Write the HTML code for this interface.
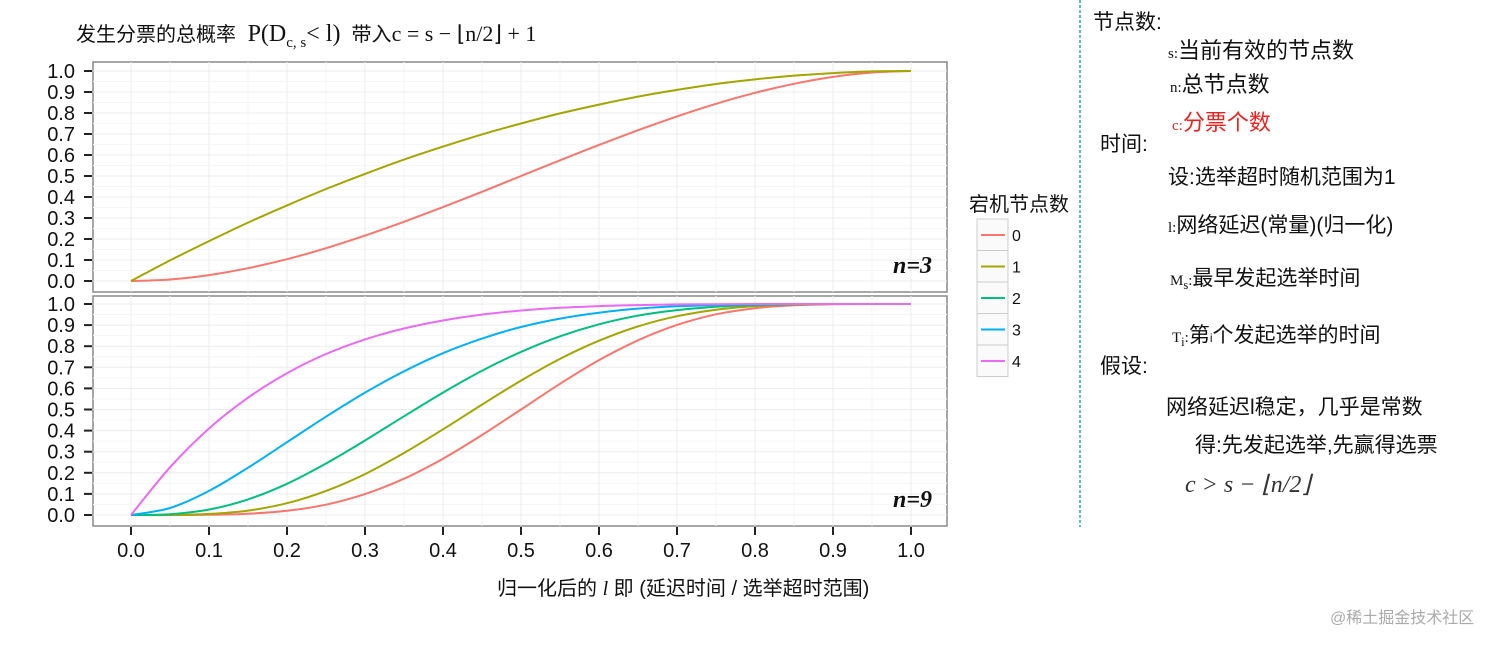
<!DOCTYPE html>
<html><head><meta charset="utf-8">
<style>
body{margin:0;width:1512px;height:647px;background:#fff;overflow:hidden;font-family:"Liberation Sans","Noto Sans CJK SC",sans-serif;}
svg{position:absolute;left:0;top:0}
.t{position:absolute;white-space:nowrap;color:#111;font-family:"Liberation Sans","Noto Sans CJK SC",sans-serif}
</style></head><body>
<svg id="chart" width="1512" height="647"></svg>
<div class="t" style="left:76px;top:18px;font-size:20px">发生分票的总概率 <span style="font-family:'Liberation Serif',serif;font-size:24px">&nbsp;P(D<sub style="font-size:15px">c, s</sub>&lt; l)</span>&nbsp; 带入<span style="font-family:'Liberation Serif',serif;font-size:22px">c = s − ⌊n/2⌋ + 1</span></div>
<div class="t" style="left:497px;top:572px;font-size:20px">归一化后的 <i style="font-family:'Liberation Serif',serif">l</i> 即 (延迟时间 / 选举超时范围)</div>
<div class="t" style="left:969px;top:188px;font-size:20px">宕机节点数</div>
<div class="t" style="left:1093px;top:6px;font-size:21px">节点数:</div>
<div class="t" style="left:1168px;top:33px;font-size:22px"><span style="font-family:'Liberation Serif',serif;font-size:15px">s:</span>当前有效的节点数</div>
<div class="t" style="left:1170px;top:67px;font-size:22px"><span style="font-family:'Liberation Serif',serif;font-size:15px">n:</span>总节点数</div>
<div class="t" style="left:1172px;top:105px;font-size:22px;color:#e8231f"><span style="font-family:'Liberation Serif',serif;font-size:15px">c:</span>分票个数</div>
<div class="t" style="left:1100px;top:128px;font-size:21px">时间:</div>
<div class="t" style="left:1168px;top:161px;font-size:21px">设:选举超时随机范围为1</div>
<div class="t" style="left:1168px;top:209px;font-size:21px"><span style="font-family:'Liberation Serif',serif;font-size:15px">l:</span>网络延迟(常量)(归一化)</div>
<div class="t" style="left:1170px;top:262px;font-size:21px"><span style="font-family:'Liberation Serif',serif;font-size:15px">M<sub>s</sub>:</span>最早发起选举时间</div>
<div class="t" style="left:1172px;top:319px;font-size:21px"><span style="font-family:'Liberation Serif',serif;font-size:15px">T<sub>i</sub>:</span>第<span style="font-size:12px">i</span>个发起选举的时间</div>
<div class="t" style="left:1100px;top:350px;font-size:21px">假设:</div>
<div class="t" style="left:1166px;top:391px;font-size:21px">网络延迟l稳定，几乎是常数</div>
<div class="t" style="left:1195px;top:429px;font-size:21px">得:先发起选举,先赢得选票</div>
<div class="t" style="left:1185px;top:470px;font-size:24px;font-family:'Liberation Serif',serif;font-style:italic;color:#333">c &gt; s − ⌊n/2⌋</div>
<div class="t" style="left:1330px;top:604px;font-size:16px;color:#aaa">@稀土掘金技术社区</div>
<script>
const xs=[0,.05,.1,.15,.2,.25,.3,.35,.4,.45,.5,.55,.6,.65,.7,.75,.8,.85,.9,.95,1];
const top0=[0,.007,.028,.061,.104,.156,.216,.282,.352,.425,.5,.575,.648,.718,.784,.844,.896,.939,.972,.993,1];
const top1=[0,.098,.19,.278,.36,.438,.51,.578,.64,.698,.75,.798,.84,.878,.91,.938,.96,.978,.99,.998,1];
const bot0=[0,0,.001,.006,.02,.049,.099,.172,.267,.379,.5,.622,.734,.828,.901,.951,.98,.994,.999,1,1];
const bot1=[0,0,.005,.021,.056,.114,.194,.294,.406,.523,.637,.74,.826,.894,.942,.973,.99,.997,1,1,1];
const bot2=[0,.004,.026,.074,.148,.244,.353,.468,.58,.684,.773,.847,.904,.945,.971,.987,.995,.999,1,1,1];
const bot3=[0,.033,.114,.224,.345,.466,.58,.681,.767,.836,.891,.931,.959,.978,.989,.995,.998,1,1,1,1];
const bot4=[0,.226,.41,.556,.672,.763,.832,.884,.922,.95,.969,.982,.99,.995,.998,.999,1,1,1,1,1];
const xTicks=["0.0","0.1","0.2","0.3","0.4","0.5","0.6","0.7","0.8","0.9","1.0"];
const yTicks=["0.0","0.1","0.2","0.3","0.4","0.5","0.6","0.7","0.8","0.9","1.0"];
const legendLabels=["0","1","2","3","4"];
const colors=["#F8766D","#A3A500","#00BF7D","#00B0F6","#E76BF3"];
const NS="http://www.w3.org/2000/svg";
const svg=document.getElementById('chart');
function mk(t,a,p){const e=document.createElementNS(NS,t);for(const k in a)e.setAttribute(k,a[k]);(p||svg).appendChild(e);return e;}
const X=v=>131+v*780;
function smooth(pts){let d='M'+pts[0][0].toFixed(1)+','+pts[0][1].toFixed(1);
 for(let i=0;i<pts.length-1;i++){const p0=pts[i-1]||pts[i],p1=pts[i],p2=pts[i+1],p3=pts[i+2]||p2;
  const c1=[p1[0]+(p2[0]-p0[0])/6,p1[1]+(p2[1]-p0[1])/6],c2=[p2[0]-(p3[0]-p1[0])/6,p2[1]-(p3[1]-p1[1])/6];
  d+='C'+c1.map(v=>v.toFixed(1)).join(',')+' '+c2.map(v=>v.toFixed(1)).join(',')+' '+p2[0].toFixed(1)+','+p2[1].toFixed(1);}
 return d;}
const panels=[{top:62,bot:292,y0:281,y1:71,series:[top0,top1],label:"n=3",name:"top"},
 {top:296,bot:526,y0:515,y1:304,series:[bot0,bot1,bot2,bot3,bot4],label:"n=9",name:"bottom"}];
const dv=mk('line',{x1:1080,y1:0,x2:1080,y2:527,stroke:'#2aa7a7','stroke-width':1.5,'stroke-dasharray':'3,2'});


panels.forEach(p=>{
 const Y=v=>p.y0+(p.y1-p.y0)*v;
 const g=mk('g',{});
 
 
 mk('rect',{x:93,y:p.top,width:854,height:p.bot-p.top,fill:'#fff',stroke:'#888','stroke-width':1.5},g);
 for(let i=0;i<=20;i++){const v=i/20;
  mk('line',{x1:X(v),x2:X(v),y1:p.top,y2:p.bot,stroke:i%2?'#f6f6f6':'#ececec','stroke-width':1},g);
  mk('line',{x1:93,x2:947,y1:Y(v),y2:Y(v),stroke:i%2?'#f6f6f6':'#ececec','stroke-width':1},g);}
 yTicks.forEach((t,i)=>{const v=parseFloat(t);
  mk('line',{x1:84,x2:92,y1:Y(v),y2:Y(v),stroke:'#222','stroke-width':2},g);
  const tx=mk('text',{x:75,y:Y(v)+7,'text-anchor':'end','font-size':20,fill:'#111','font-family':'Liberation Sans, sans-serif'},g);
  tx.textContent=t;
  
  });
 p.series.forEach((s,si)=>{
  const pts=s.map((v,i)=>[X(xs[i]),Y(v)]);
  const path=mk('path',{d:smooth(pts),fill:'none',stroke:colors[si],'stroke-width':2,'stroke-linejoin':'round'},g);
  
  });
 const lb=mk('text',{x:932,y:p.bot-19,'text-anchor':'end','font-size':24,'font-style':'italic','font-weight':'bold',fill:'#111','font-family':'Liberation Serif, serif'},g);
 lb.textContent=p.label;
 
 
});
xTicks.forEach(t=>{const v=parseFloat(t);
 mk('line',{x1:X(v),x2:X(v),y1:527,y2:535,stroke:'#222','stroke-width':2});
 const tx=mk('text',{x:X(v),y:557,'text-anchor':'middle','font-size':20,fill:'#111','font-family':'Liberation Sans, sans-serif'});
 tx.textContent=t;
 
 });
legendLabels.forEach((l,i)=>{const y=219+i*31.5;
 const g=mk('g',{});
 
 
 mk('rect',{x:977,y:y,width:31,height:31.5,fill:'#fafafa',stroke:'#ccc'},g);
 mk('line',{x1:981,x2:1005,y1:y+16,y2:y+16,stroke:colors[i],'stroke-width':2},g);
 const tx=mk('text',{x:1012,y:y+22,'font-size':16,fill:'#111','font-family':'Liberation Sans, sans-serif'},g);
 tx.textContent=l;});
</script>
</body></html>
